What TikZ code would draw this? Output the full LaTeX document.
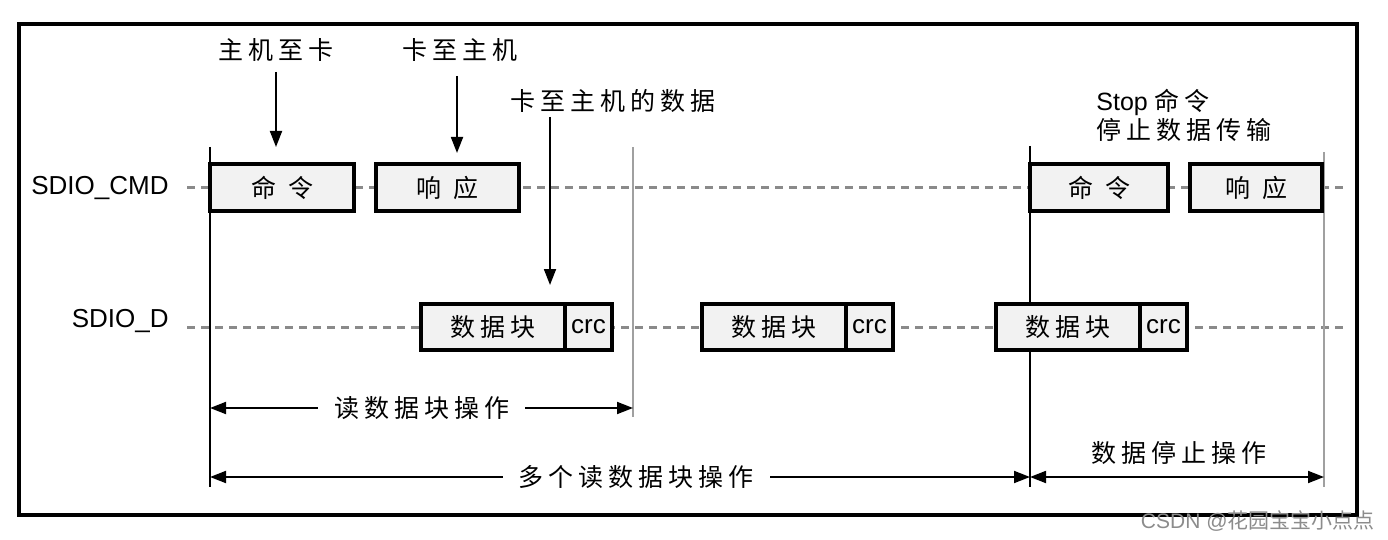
\documentclass[tikz,border=0pt]{standalone}
\usepackage{fontspec}
\setmainfont{Liberation Sans}
\newfontfamily\zh[LetterSpace=20]{Noto Sans CJK SC}
\newfontfamily\zhplain{Noto Sans CJK SC}
\usepackage{tikz}
\usetikzlibrary{arrows.meta,positioning}
\definecolor{cellfill}{HTML}{F2F2F2}
\definecolor{idlegrey}{HTML}{8A8A8A}
\definecolor{markgrey}{HTML}{A0A0A0}
\tikzset{
  cell/.style={
    rectangle, draw=black, line width=2pt, fill=cellfill,
    outer sep=0pt, inner sep=0pt, minimum height=#1,
    font=\fontsize{12.5}{15}\selectfont\zh
  },
  cmdcell/.style={cell=23.5pt},
  datcell/.style={cell=23pt, minimum width=72pt},
  crccell/.style={cell=23pt, minimum width=23.5pt,
    font=\fontsize{13}{15}\selectfont\rmfamily},
  sigtag/.style={inner sep=0pt, font=\fontsize{13}{15}\selectfont\rmfamily},
  note/.style={inner sep=2pt, font=\fontsize{12.5}{14.5}\selectfont\zh},
  idle/.style={draw=idlegrey, line width=1.5pt, dash pattern=on 4pt off 3pt},
  marker/.style={draw=black, line width=0.9pt},
  pointer/.style={-{Triangle[length=8pt,width=6pt]}, line width=0.9pt},
  span/.style={{Triangle[length=8pt,width=6pt]}-{Triangle[length=8pt,width=6pt]}, line width=0.9pt},
  spanlabel/.style={note, fill=white, inner xsep=8pt}
}

\begin{document}
\begin{tikzpicture}[x=0.5pt,y=-0.5pt]
\useasboundingbox (0,0) rectangle (1388,540);
\draw[line width=1.8pt] (19,24) rectangle (1357,515);

% signal names and idle lines
\node[sigtag, anchor=east] (cmdTag) at (169,188) {SDIO\_CMD};
\node[sigtag, anchor=east] (datTag) at (169,321) {SDIO\_D};
\coordinate (cmdEnd) at (1346,188);
\coordinate (datEnd) at (1346,327);
\draw[idle] ([xshift=9pt]cmdTag.east) -- (cmdEnd);
\draw[idle] ([xshift=9pt]datTag.east |- datEnd) -- (datEnd);

% time markers
\coordinate (m0top) at (210,147);  \coordinate (m0bot) at (210,487);
\coordinate (m1top) at (633,147);  \coordinate (m1bot) at (633,417);
\coordinate (m2top) at (1030,146); \coordinate (m2bot) at (1030,487);
\coordinate (m3top) at (1324,152); \coordinate (m3bot) at (1324,487);
\draw[marker] (m0top) -- (m0bot);
\draw[marker, draw=markgrey] (m1top) -- (m1bot);
\draw[marker] (m2top) -- (m2bot);
\draw[marker, draw=markgrey] (m3top) -- (m3bot);

% command line
\node[cmdcell, minimum width=72pt] (cmdA) at (282,187.5) {命\hspace{6pt}令};
\node[cmdcell, minimum width=71.5pt] (rspA) at (447.5,187.5) {响\hspace{6pt}应};
\node[cmdcell, minimum width=69pt] (cmdB) at (1099,187.5) {命\hspace{6pt}令};
\node[cmdcell, minimum width=66pt] (rspB) at (1256,187.5) {响\hspace{6pt}应};

% data line
\node[datcell] (datA) at (493,327) {数据块};
\node[crccell, anchor=west] (crcA) at (datA.east) {crc};
\node[datcell] (datB) at (774,327) {数据块};
\node[crccell, anchor=west] (crcB) at (datB.east) {crc};
\node[datcell] (datC) at (1068,327) {数据块};
\node[crccell, anchor=west] (crcC) at (datC.east) {crc};

% callouts
\node[note] (hostLbl) at (276,50) {主机至卡};
\node[note] (cardLbl) at (460,50) {卡至主机};
\node[note] (dataLbl) at (613,101) {卡至主机的数据};
\node[note, anchor=west, align=left] (stopLbl) at (1092,115.5)
  {{\rmfamily Stop }命令\\停止数据传输};
\coordinate (dataTop) at (550,117);
\coordinate (dataTip) at (550,285);
\draw[pointer, shorten <=3pt, shorten >=8.5pt] (hostLbl.south) -- (hostLbl.south |- cmdA.north);
\draw[pointer, shorten <=5pt, shorten >=5.5pt] ([xshift=-1.5pt]cardLbl.south) -- ([xshift=-1.5pt]cardLbl.south |- rspA.north);
\draw[pointer] (dataTop) -- (dataTip);

% operation spans
\coordinate (rdL) at (210,408);  \coordinate (rdR) at (633,408);
\coordinate (mrL) at (210,477);  \coordinate (mrR) at (1030,477);
\coordinate (stR) at (1324,477);
\draw[span] (rdL) -- node[spanlabel] (rdLbl) {读数据块操作} (rdR);
\draw[span] (mrL) -- node[spanlabel, pos=0.52] (mrLbl) {多个读数据块操作} (mrR);
\draw[span] (mrR) -- (stR);
\node[note] (stopOpLbl) at (1179,453) {数据停止操作};

\node[anchor=east, inner sep=0pt, text=black!45, font=\fontsize{10.5}{12}\selectfont] (mark) at (1375,521)
  {CSDN @{\zhplain 花园宝宝小点点}};
\end{tikzpicture}
\end{document}
